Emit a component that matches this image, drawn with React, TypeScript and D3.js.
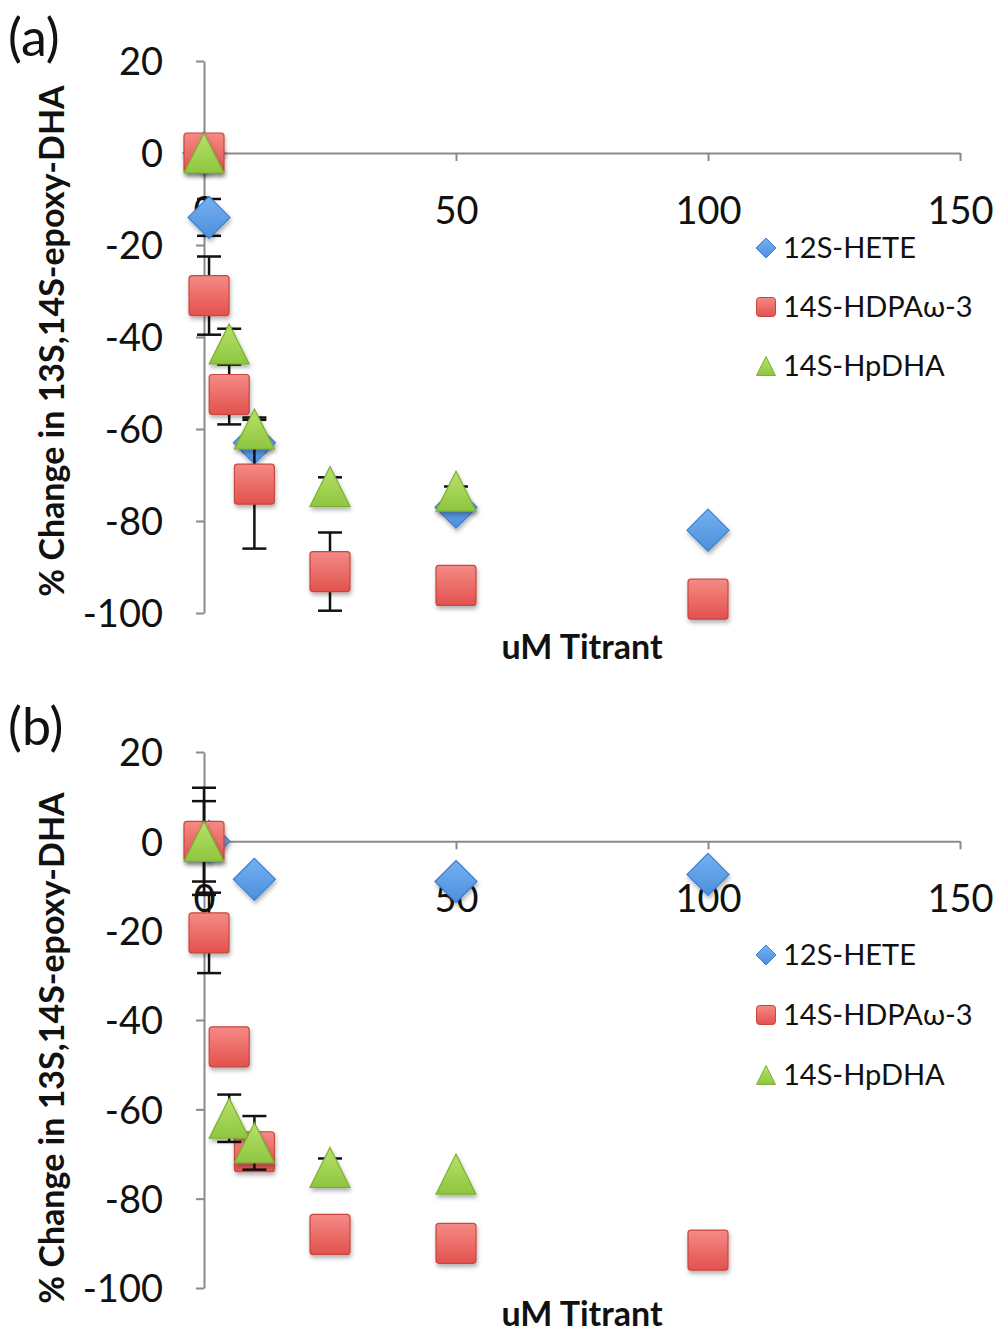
import * as d3 from 'd3'
import { useEffect, useRef } from 'react'

// series names
const seriesNames = ['12S-HETE', '14S-HDPAω-3', '14S-HpDHA']

// axis ticks
const xTicks = [0, 50, 100, 150]
const yTicks = [20, 0, -20, -40, -60, -80, -100]

// panel (a)
const a_heteX = [0, 1, 10, 50, 100]
const a_heteY = [0, -14, -63, -77, -82]
const a_heteErr = [0, 4, 2, 1, 1]
const a_hdpaX = [0, 1, 5, 10, 25, 50, 100]
const a_hdpaY = [0, -31, -52.5, -72, -91, -94, -97]
const a_hdpaErr = [0, 8.5, 6.5, 14, 8.5, 1, 1]
const a_hpdhaX = [0, 5, 10, 25, 50]
const a_hpdhaY = [0, -41.5, -60, -72.5, -73.5]
const a_hpdhaErr = [0, 3.3, 2.5, 2, 1]

// panel (b)
const b_heteX = [1, 10, 50, 100]
const b_heteY = [0, -8.5, -9, -7.4]
const b_heteErr = [0, 0, 0, 0]
const b_hdpaX = [0, 1, 5, 10, 25, 50, 100]
const b_hdpaY = [0, -20.5, -46, -69.5, -88, -90, -91.5]
const b_hdpaErr = [12, 9, 0, 0, 0, 0, 0]
const b_hpdhaX = [0, 5, 10, 25, 50]
const b_hpdhaY = [0, -62, -67.5, -73, -74.5]
const b_hpdhaErr = [9, 5.3, 6, 2, 0]

interface Pt {
  x: number
  y: number
  err: number
}

const zip = (xs: number[], ys: number[], es: number[]): Pt[] =>
  xs.map((x, i) => ({ x, y: ys[i], err: es[i] }))

const FONT = 'Lato, "Open Sans", sans-serif'

export default function App() {
  const svgRef = useRef<SVGSVGElement>(null)

  useEffect(() => {
    if (!svgRef.current) return
    const svg = d3.select(svgRef.current)
    svg.selectAll('*').remove()

    // gradients + shadow
    const defs = svg.append('defs')
    const grad = (id: string, top: string, bottom: string) => {
      const g = defs
        .append('linearGradient')
        .attr('id', id)
        .attr('x1', 0)
        .attr('y1', 0)
        .attr('x2', 0)
        .attr('y2', 1)
      g.append('stop').attr('offset', '0%').attr('stop-color', top)
      g.append('stop').attr('offset', '100%').attr('stop-color', bottom)
    }
    grad('gBlue', '#74b1f2', '#4d8fdc')
    grad('gRed', '#f58a86', '#e2524d')
    grad('gGreen', '#b8e16a', '#8ec63f')
    defs
      .append('filter')
      .attr('id', 'shadow')
      .attr('x', '-30%')
      .attr('y', '-30%')
      .attr('width', '160%')
      .attr('height', '170%')
      .append('feDropShadow')
      .attr('dx', 1)
      .attr('dy', 3)
      .attr('stdDeviation', 2)
      .attr('flood-color', '#000')
      .attr('flood-opacity', 0.3)

    const styles = [
      { fill: 'url(#gBlue)', stroke: '#3f7fcf', shape: 'diamond' },
      { fill: 'url(#gRed)', stroke: '#c8463f', shape: 'square' },
      { fill: 'url(#gGreen)', stroke: '#7cb034', shape: 'triangle' },
    ]

    const markerPath = (shape: string, s: number) => {
      const h = s / 2
      if (shape === 'diamond') return `M0,${-h}L${h},0L0,${h}L${-h},0Z`
      if (shape === 'triangle') return `M0,${-h}L${h},${h}L${-h},${h}Z`
      return `M${-h + 3},${-h}H${h - 3}Q${h},${-h} ${h},${-h + 3}V${h - 3}Q${h},${h} ${h - 3},${h}H${-h + 3}Q${-h},${h} ${-h},${h - 3}V${-h + 3}Q${-h},${-h} ${-h + 3},${-h}Z`
    }

    const drawPanel = (
      label: string,
      yTop: number,
      yBottom: number,
      series: Pt[][],
      legendY: number[],
      titleY: number,
      xTitleY: number,
      labelY: number
    ) => {
      const x = d3.scaleLinear().domain([0, 150]).range([204, 960])
      const y = d3.scaleLinear().domain([-100, 20]).range([yBottom, yTop])
      const g = svg.append('g')

      // y axis
      const yAxis = g
        .append('g')
        .attr('transform', `translate(${x(0)},0)`)
        .call(
          d3
            .axisLeft(y)
            .tickValues(yTicks)
            .tickSize(8)
            .tickSizeOuter(0)
            .tickPadding(33)
            .tickFormat((d) => String(d))
        )
      yAxis.select('.domain').attr('stroke', '#8a8a8a').attr('stroke-width', 2)
      yAxis.selectAll('.tick line').attr('stroke', '#8a8a8a').attr('stroke-width', 2)
      yAxis
        .selectAll('.tick text')
        .attr('font-family', FONT)
        .attr('font-size', 38)
        .attr('fill', '#111')
        .attr('dy', '0.36em')

      // x axis at y = 0
      const xAxis = g
        .append('g')
        .attr('transform', `translate(0,${y(0)})`)
        .call(
          d3
            .axisBottom(x)
            .tickValues(xTicks)
            .tickSize(8)
            .tickSizeOuter(0)
            .tickPadding(36)
            .tickFormat((d) => String(d))
        )
      xAxis.select('.domain').attr('stroke', '#8a8a8a').attr('stroke-width', 2)
      xAxis.selectAll('.tick line').attr('stroke', '#8a8a8a').attr('stroke-width', 2)
      xAxis
        .selectAll('.tick text')
        .attr('font-family', FONT)
        .attr('font-size', 38)
        .attr('fill', '#111')

      // series: error bars then markers
      series.forEach((pts, si) => {
        const st = styles[si]
        const withErr = pts.filter((p) => p.err > 0)
        const eb = g.append('g').attr('stroke', '#111').attr('stroke-width', 2.5)
        eb.selectAll('line.bar')
          .data(withErr)
          .enter()
          .append('line')
          .attr('x1', (d) => x(d.x))
          .attr('x2', (d) => x(d.x))
          .attr('y1', (d) => y(d.y + d.err))
          .attr('y2', (d) => y(d.y - d.err))
        ;[1, -1].forEach((sgn) => {
          eb.selectAll(`line.cap${sgn}`)
            .data(withErr)
            .enter()
            .append('line')
            .attr('x1', (d) => x(d.x) - 12)
            .attr('x2', (d) => x(d.x) + 12)
            .attr('y1', (d) => y(d.y + sgn * d.err))
            .attr('y2', (d) => y(d.y + sgn * d.err))
        })
        g.append('g')
          .selectAll('path')
          .data(pts)
          .enter()
          .append('path')
          .attr('transform', (d) => `translate(${x(d.x)},${y(d.y)})`)
          .attr('d', markerPath(st.shape, st.shape === 'diamond' ? 42 : 40))
          .attr('fill', st.fill)
          .attr('stroke', st.stroke)
          .attr('stroke-width', 1.2)
          .attr('filter', 'url(#shadow)')
      })

      // legend
      seriesNames.forEach((name, i) => {
        const st = styles[i]
        const lg = g.append('g').attr('transform', `translate(766,${legendY[i]})`)
        lg.append('path')
          .attr('d', markerPath(st.shape, st.shape === 'diamond' ? 20 : 19))
          .attr('fill', st.fill)
          .attr('stroke', st.stroke)
          .attr('stroke-width', 1)
        lg.append('text')
          .attr('x', 17)
          .attr('dy', '0.36em')
          .attr('font-family', FONT)
          .attr('font-size', 29)
          .attr('fill', '#111')
          .text(name)
      })

      // titles
      g.append('text')
        .attr('x', 582)
        .attr('y', xTitleY)
        .attr('text-anchor', 'middle')
        .attr('font-family', FONT)
        .attr('font-weight', 'bold')
        .attr('font-size', 34)
        .attr('fill', '#111')
        .text('uM Titrant')
      g.append('text')
        .attr('transform', `translate(52,${titleY}) rotate(-90)`)
        .attr('text-anchor', 'middle')
        .attr('dy', '0.36em')
        .attr('font-family', FONT)
        .attr('font-weight', 'bold')
        .attr('font-size', 34)
        .attr('fill', '#111')
        .text('% Change in 13S,14S-epoxy-DHA')
      g.append('text')
        .attr('x', 8)
        .attr('y', labelY)
        .attr('font-family', FONT)
        .attr('font-size', 52)
        .attr('fill', '#111')
        .text(label)
    }

    drawPanel(
      '(a)',
      61,
      613,
      [
        zip(a_heteX, a_heteY, a_heteErr),
        zip(a_hdpaX, a_hdpaY, a_hdpaErr),
        zip(a_hpdhaX, a_hpdhaY, a_hpdhaErr),
      ],
      [248, 307, 366],
      341,
      659,
      56
    )
    drawPanel(
      '(b)',
      752,
      1288,
      [
        zip(b_heteX, b_heteY, b_heteErr),
        zip(b_hdpaX, b_hdpaY, b_hdpaErr),
        zip(b_hpdhaX, b_hpdhaY, b_hpdhaErr),
      ],
      [955, 1015, 1075],
      1048,
      1326,
      745
    )
  }, [])

  return (
    <svg
      ref={svgRef}
      width={996}
      height={1335}
      style={{ position: 'absolute', left: 0, top: 0, background: '#fff' }}
    />
  )
}
